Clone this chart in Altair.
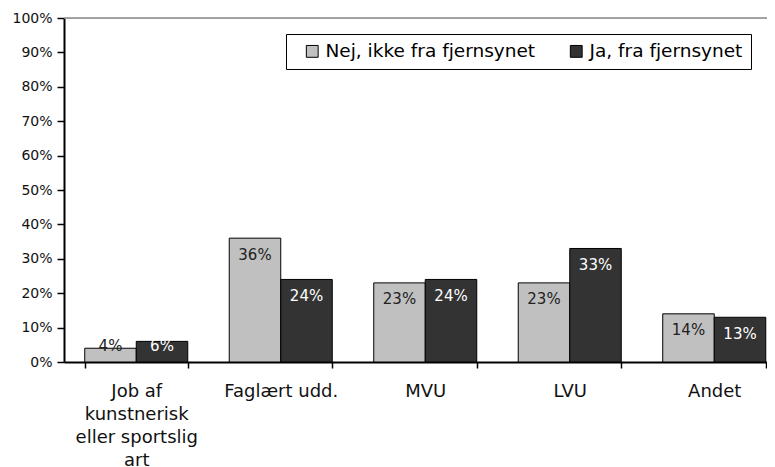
import altair as alt
import pandas as pd

categories = ["Job af|kunstnerisk|eller sportslig|art", "Faglært udd.", "MVU", "LVU", "Andet"]
series = ["Nej, ikke fra fjernsynet", "Ja, fra fjernsynet"]
nej_values = [4, 36, 23, 23, 14]
ja_values = [6, 24, 24, 33, 13]
y_ticks = [0, 10, 20, 30, 40, 50, 60, 70, 80, 90, 100]

rows = []
for c, n, j in zip(categories, nej_values, ja_values):
    rows.append({"cat": c, "serie": series[0], "value": n})
    rows.append({"cat": c, "serie": series[1], "value": j})
df = pd.DataFrame(rows)

FONT = "DejaVu Sans"

x_enc = alt.X(
    "cat:N",
    sort=categories,
    title=None,
    scale=alt.Scale(range=[0, 722.5], paddingInner=0.287, paddingOuter=0.1435),
    axis=alt.Axis(
        labelAngle=0,
        labelExpr="split(datum.label, '|')",
        labelFont=FONT,
        labelFontSize=18,
        labelColor="#111111",
        labelPadding=14,
        labelLineHeight=23.3,
        labelBaseline="top",
        tickBand="extent",
        tickSize=6,
        tickColor="black",
        tickWidth=1.5,
        domainColor="black",
        domainWidth=2,
        labelLimit=300,
        labelOverlap=False,
    ),
)
xoff_enc = alt.XOffset("serie:N", sort=series, scale=alt.Scale(paddingInner=0, paddingOuter=0))
y_scale = alt.Scale(domain=[0, 100], nice=False)
y_axis = alt.Axis(
    values=y_ticks,
    labelExpr="datum.value + '%'",
    labelFont=FONT,
    labelFontSize=14,
    labelColor="#111111",
    labelPadding=5,
    labelOverlap=False,
    tickSize=7,
    tickColor="black",
    tickWidth=1.5,
    domainColor="black",
    domainWidth=2,
    grid=False,
)

base = alt.Chart(df).encode(x=x_enc, xOffset=xoff_enc)

bars = base.mark_bar(stroke="black", strokeWidth=1).encode(
    y=alt.Y("value:Q", scale=y_scale, title=None, axis=y_axis),
    color=alt.Color(
        "serie:N",
        sort=series,
        scale=alt.Scale(domain=series, range=["#c0c0c0", "#333333"]),
        legend=alt.Legend(
            title=None,
            orient="none",
            legendX=222,
            legendY=16,
            direction="horizontal",
            symbolType="square",
            symbolSize=140,
            symbolOffset=9,
            symbolStrokeColor="black",
            symbolStrokeWidth=1,
            labelFont=FONT,
            labelFontSize=18.5,
            labelColor="black",
            labelOffset=4,
            labelLimit=400,
            columnPadding=22,
            strokeColor="black",
            fillColor="white",
            padding=8,
        ),
    ),
)

labels = base.transform_calculate(
    labelY="max(datum.value - 4.8, 4.6)",
    txt="datum.value + '%'",
).mark_text(font=FONT, fontSize=15, baseline="middle").encode(
    y=alt.Y("labelY:Q", scale=y_scale, title=None, axis=y_axis),
    text="txt:N",
    color=alt.condition(
        "datum.serie == 'Ja, fra fjernsynet'", alt.value("white"), alt.value("#222222")
    ),
)

top_line = alt.Chart(pd.DataFrame({"v": [100]})).mark_rule(color="#888888", strokeWidth=1.5).encode(
    y=alt.Y("v:Q", scale=y_scale, title=None, axis=y_axis)
)

chart = (
    alt.layer(bars, labels, top_line)
    .properties(
        width=703,
        height=344,
        autosize=alt.AutoSizeParams(type="none"),
        padding={"left": 56, "top": 10, "right": 0, "bottom": 105},
    )
    .configure_view(stroke=None)
    .configure(background="white")
)

chart.save("out.html", embed_options={"renderer": "svg", "actions": False})
